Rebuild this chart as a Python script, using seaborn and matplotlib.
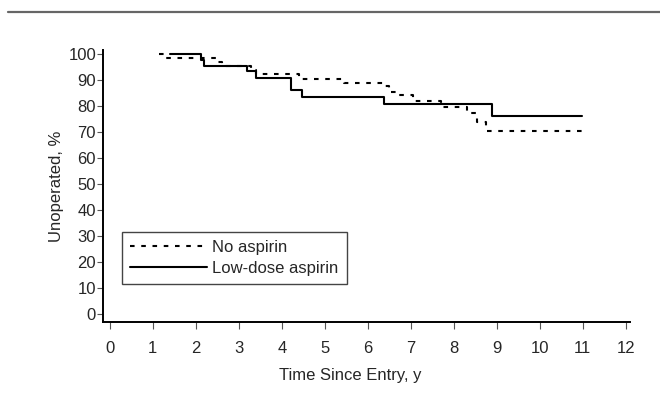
import pandas as pd
import matplotlib
matplotlib.use('Agg')
import matplotlib.pyplot as plt
from matplotlib.lines import Line2D
import seaborn as sns

# Kaplan-Meier style step curves
no_aspirin_t = [1.14, 1.28, 2.5, 2.6, 3.29, 3.4, 4.4, 5.45, 6.4, 6.5, 6.7, 7.05, 7.7, 8.3, 8.55, 8.75, 10.98]
no_aspirin_y = [100, 98.5, 96.9, 95.2, 93.9, 92.2, 90.5, 88.7, 87.5, 85.2, 84.2, 82.0, 79.7, 77.2, 73.7, 70.2, 70.2]
low_dose_t = [1.39, 2.13, 2.2, 3.18, 3.4, 4.22, 4.46, 6.37, 8.88, 10.98]
low_dose_y = [100, 97.5, 95.4, 93.5, 90.8, 86.0, 83.5, 80.9, 76.0, 76.0]

x_ticks = list(range(0, 13))
y_ticks = list(range(0, 101, 10))

df = pd.concat([
    pd.DataFrame({'time': no_aspirin_t, 'pct': no_aspirin_y, 'group': 'No aspirin'}),
    pd.DataFrame({'time': low_dose_t, 'pct': low_dose_y, 'group': 'Low-dose aspirin'}),
], ignore_index=True)

sns.set_style('white')
plt.rcParams['font.family'] = ['Liberation Sans', 'DejaVu Sans']

fig = plt.figure(figsize=(6.6, 4.0), dpi=100)
ax = fig.add_axes([103 / 660, 1 - 322 / 400, 527 / 660, 272 / 400])

sns.lineplot(data=df, x='time', y='pct', hue='group', style='group',
             palette={'No aspirin': 'black', 'Low-dose aspirin': 'black'},
             dashes={'No aspirin': (2.2, 3.2), 'Low-dose aspirin': ''},
             estimator=None, drawstyle='steps-post', linewidth=1.5, ax=ax)

ax.set_xlim(-0.16, 12.1)
ax.set_ylim(-3, 101.5)
ax.set_xticks(x_ticks)
ax.set_yticks(y_ticks)
ax.tick_params(axis='x', direction='out', length=5, width=0.8, pad=9, labelsize=12, color='#555555')
ax.tick_params(axis='y', direction='out', length=4, width=0.8, pad=1, labelsize=12, color='#555555')
ax.tick_params(bottom=True, left=True)
for side in ['top', 'right']:
    ax.spines[side].set_visible(False)
for side in ['left', 'bottom']:
    ax.spines[side].set_color('black')
    ax.spines[side].set_linewidth(1.4)

ax.set_xlabel('Time Since Entry, y', fontsize=12, labelpad=10)
ax.xaxis.set_label_coords(0.47, -0.17)
ax.set_ylabel('Unoperated, %', fontsize=12, labelpad=3)

leg = ax.legend(loc='upper left', bbox_to_anchor=(0.036, 0.331), borderaxespad=0,
                fontsize=12, handlelength=4.6, handletextpad=0.3, labelspacing=0.35,
                borderpad=0.5, fancybox=False, framealpha=1, edgecolor='#444444', title=None)
leg.get_frame().set_linewidth(1.0)

# grey rule across the top of the figure
fig.add_artist(Line2D([8 / 660, 1], [1 - 12 / 400, 1 - 12 / 400], color='#666666', linewidth=1.6))

fig.savefig('out.png', dpi=100)
